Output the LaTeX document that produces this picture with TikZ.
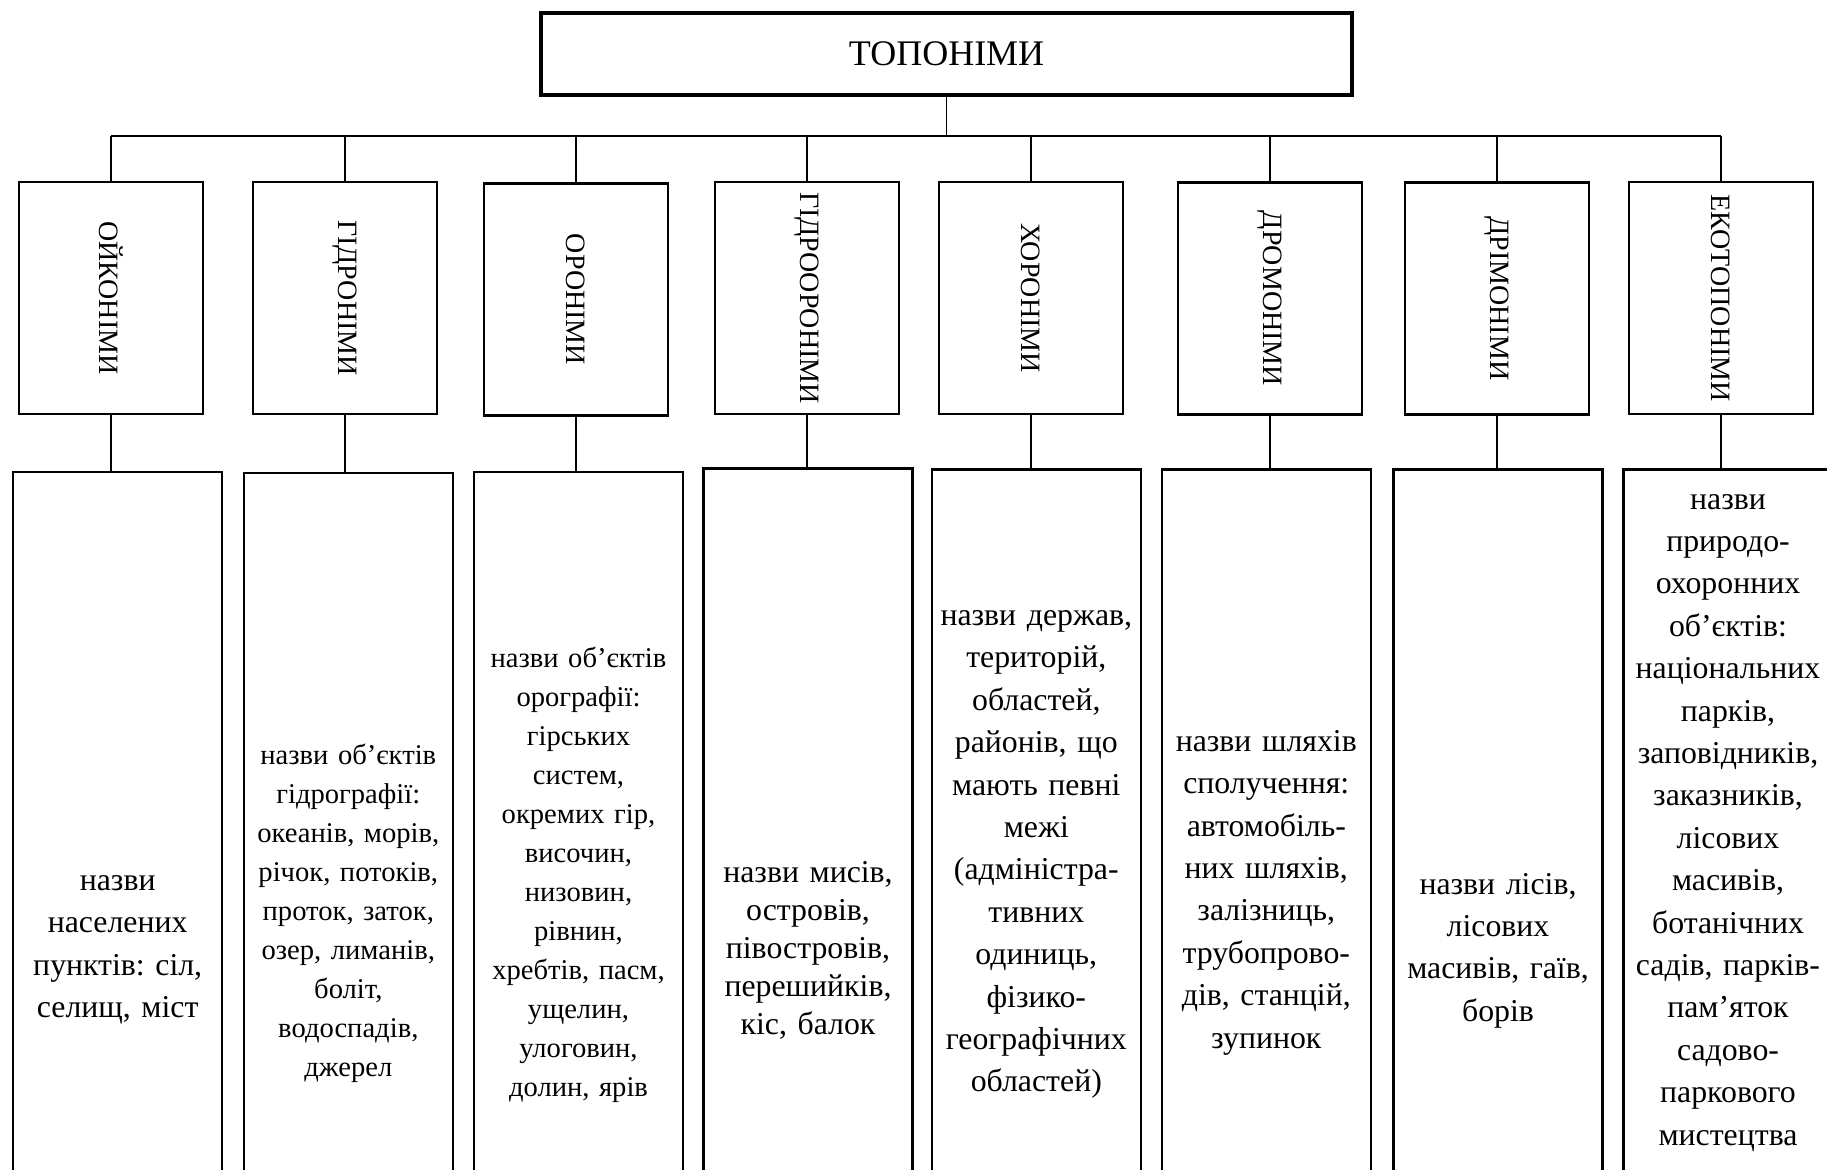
\documentclass[tikz,border=0pt]{standalone}
\usepackage{fontspec}
\setmainfont{Liberation Serif}
\usepackage{graphicx}
\frenchspacing

\begin{document}
\begin{tikzpicture}[x=0.5pt,y=-0.5pt,
  kind/.style={draw,line width=1.2pt,minimum width=92pt,minimum height=116pt,inner sep=0pt,font=\fontsize{14}{17}\selectfont},
  desc/.style={draw,line width=1.2pt,anchor=north,minimum width=104.5pt,text width=101pt,inner sep=1.5pt,align=center,font=\fontsize{15.9}{21.2}\selectfont},
  tight/.style={font=\fontsize{14.3}{19.5}\selectfont},
  link/.style={line width=0.7pt}]
  \useasboundingbox (0,0) rectangle (1827,1170);
  \clip (0,0) rectangle (1827,1170);
  \node[draw,line width=2pt,minimum width=405.5pt,minimum height=41pt,font=\fontsize{18}{22}\selectfont] (top) at (946.5,54) {ТОПОНІМИ};
  \coordinate (bus) at (0,136);

  \node[kind] (k1) at (111,298) {\rotatebox{-90}{ОЙКОНІМИ}};
  \node[kind] (k2) at (345,298) {\rotatebox{-90}{ГІДРОНІМИ}};
  \node[kind] (k3) at (576,299.5) {\rotatebox{-90}{ОРОНІМИ}};
  \node[kind] (k4) at (807,298) {\rotatebox{-90}{ГІДРООРОНІМИ}};
  \node[kind] (k5) at (1031,298) {\rotatebox{-90}{ХОРОНІМИ}};
  \node[kind] (k6) at (1270,298.5) {\rotatebox{-90}{ДРОМОНІМИ}};
  \node[kind] (k7) at (1497,298.5) {\rotatebox{-90}{ДРІМОНІМИ}};
  \node[kind] (k8) at (1721,298) {\rotatebox{-90}{ЕКОТОПОНІМИ}};

  \node[desc,minimum height=478pt] (d1) at (117.7,470.7)
    {назви\\населених\\пунктів: сіл,\\селищ, міст};
  \node[desc,tight,minimum height=440pt] (d2) at (348.3,471.9)
    {назви об’єктів\\гідрографії:\\океанів, морів,\\річок, потоків,\\проток, заток,\\озер, лиманів,\\боліт,\\водоспадів,\\джерел};
  \node[desc,tight,minimum height=403pt] (d3) at (578.5,470.7)
    {назви об’єктів\\орографії:\\гірських\\систем,\\окремих гір,\\височин,\\низовин,\\рівнин,\\хребтів, пасм,\\ущелин,\\улоговин,\\долин, ярів};
  \node[desc,font=\fontsize{15.9}{18.9}\selectfont,minimum height=482pt] (d4) at (808,467.2)
    {назви мисів,\\островів,\\півостровів,\\перешийків,\\кіс, балок};
  \node[desc,minimum height=385pt] (d5) at (1036.3,468.4)
    {назви держав,\\територій,\\областей,\\районів, що\\мають певні\\межі\\(адміністра-\\тивних\\одиниць,\\фізико-\\географічних\\областей)};
  \node[desc,minimum height=423pt] (d6) at (1266.3,468.4)
    {назви шляхів\\сполучення:\\автомобіль-\\них шляхів,\\залізниць,\\трубопрово-\\дів, станцій,\\зупинок};
  \node[desc,minimum height=481pt] (d7) at (1498,468.4)
    {назви лісів,\\лісових\\масивів, гаїв,\\борів};
  \node[desc,minimum height=353pt] (d8) at (1728,468.4)
    {назви\\природо-\\охоронних\\об’єктів:\\національних\\парків,\\заповідників,\\заказників,\\лісових\\масивів,\\ботанічних\\садів, парків-\\пам’яток\\садово-\\паркового\\мистецтва};

  \draw[link] (top.south) -- (top.south |- bus);
  \draw[link] (k1.north |- bus) -- (k8.north |- bus);
  \foreach \i in {1,...,8}
    \draw[link] (k\i.north) -- (k\i.north |- bus) (k\i.south) -- (k\i.south |- d\i.north);
\end{tikzpicture}
\end{document}
